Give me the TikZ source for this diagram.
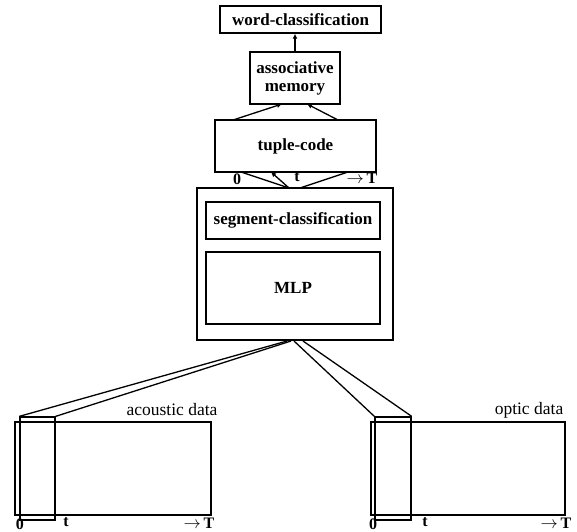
\documentclass[tikz,border=0pt]{standalone}
\usepackage{fontspec}
\setmainfont{Liberation Serif}
\usetikzlibrary{arrows.meta}
\tikzset{
  blk/.style={draw, line width=1.4pt, inner sep=0pt, font=\fontsize{17}{18}\selectfont\bfseries, align=center},
  lbl/.style={inner sep=0pt, font=\fontsize{17.5}{19}\selectfont},
  tick/.style={inner sep=0pt, font=\fontsize{16}{18}\selectfont\bfseries},
  lnk/.style={line width=1.3pt},
  arr/.style={line width=1.3pt, -{Latex[length=5pt,width=5pt]}}
}
\begin{document}
\begin{tikzpicture}[x=1pt,y=-1pt]
\useasboundingbox (0,0) rectangle (577,531);
\node[blk, minimum width=161pt, minimum height=27pt] (wcl) at (300.5,19.5){word-classification};
\node[blk, minimum width=90pt, minimum height=52pt] (mem) at (295,78){associative\\memory};
\node[blk, minimum width=161pt, minimum height=52pt] (tup) at (295.5,146){tuple-code};
\node[blk, line width=1.3pt, minimum width=196pt, minimum height=152pt] (big) at (295,264){};
\node[blk, minimum width=174pt, minimum height=37pt] (seg) at (293,220.5){segment-classification};
\node[blk, minimum width=174pt, minimum height=72pt] (mlp) at (293,288){MLP};
\draw[arr](mem.north) -- (mem.north |- wcl.south);
\coordinate (tl) at (233,120);
\coordinate (tr) at (338,120);
\coordinate (ml) at (282,104);
\coordinate (mr) at (307,104);
\draw[arr](tl) -- (ml);
\draw[arr](tr) -- (mr);
\node[tick] (t0) at (237,179){0};
\node[tick] (tt) at (297,177){t};
\node[tick] (tT) at (362,178){$\rightarrow$\,T};
\coordinate (f0) at (241,172);
\coordinate (ft) at (271,172);
\coordinate (fT) at (348,172);
\coordinate (b0) at (289,188);
\coordinate (bT) at (300,188);
\draw[lnk](b0) -- (f0);
\draw[arr](b0) -- (ft);
\draw[lnk](bT) -- (fT);
\node[draw, lnk, minimum width=196pt, minimum height=93pt, inner sep=0pt] (ac) at (113,468.5){};
\node[draw, lnk, minimum width=35pt, minimum height=103pt, inner sep=0pt] (acw) at (37.5,468.5){};
\node[lbl] (acl) at (172,410){acoustic data};
\node[draw, lnk, minimum width=194pt, minimum height=93pt, inner sep=0pt] (op) at (468,468.5){};
\node[draw, lnk, minimum width=36pt, minimum height=103pt, inner sep=0pt] (opw) at (393,468.5){};
\node[lbl] (opl) at (529,410){optic data};
\coordinate (s0) at (287,341);
\coordinate (s1) at (291,341);
\coordinate (s2) at (294,341);
\coordinate (s3) at (303,341);
\draw[lnk](s0) -- (acw.north west);
\draw[lnk](s1) -- (acw.north east);
\draw[lnk](s2) -- (opw.north west);
\draw[lnk](s3) -- (opw.north east);
\node[tick] (a0) at (20,524.5){0};
\node[tick] (at) at (66,522){t};
\node[tick] (aT) at (199,523){$\rightarrow$\,T};
\node[tick] (o0) at (373,524.5){0};
\node[tick] (ot) at (425,522){t};
\node[tick] (oT) at (556,523){$\rightarrow$\,T};
\end{tikzpicture}
\end{document}
